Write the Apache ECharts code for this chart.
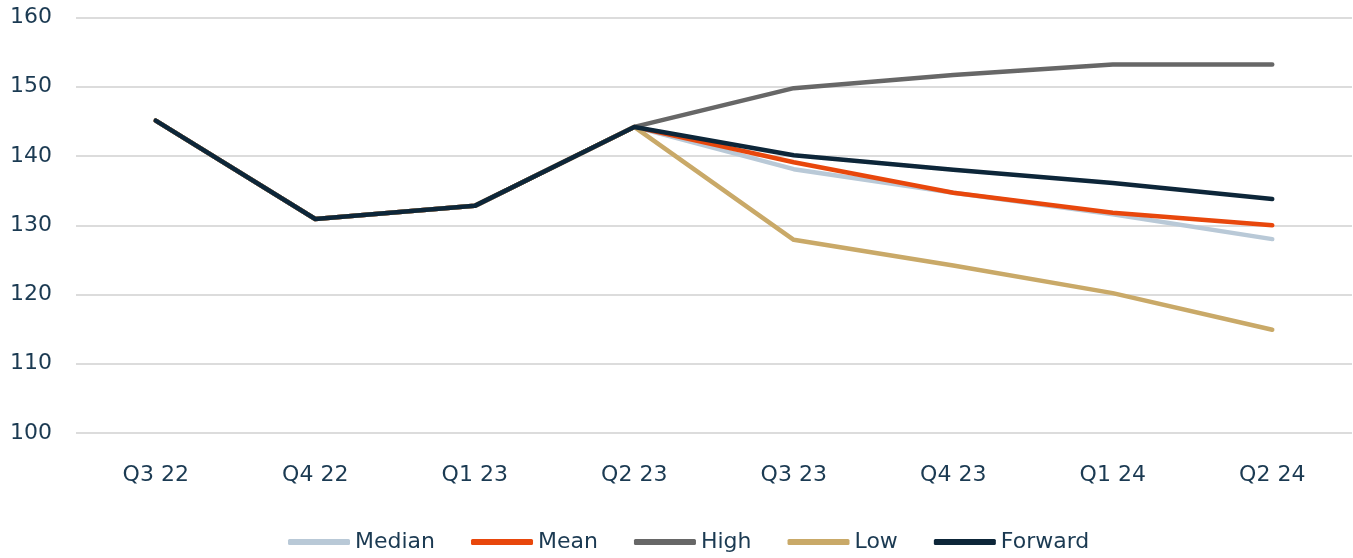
<!DOCTYPE html>
<html><head><meta charset="utf-8">
<script src="https://cdn.jsdelivr.net/npm/echarts@6/dist/echarts.min.js"></script>
<style>html,body{margin:0;padding:0;background:#fff}#c{width:1353px;height:558px}</style>
</head><body><div id="c"></div>
<script>
const categories = ['Q3 22','Q4 22','Q1 23','Q2 23','Q3 23','Q4 23','Q1 24','Q2 24'];
const median  = [145.1, 130.9, 132.8, 144.2, 138.1, 134.7, 131.6, 128.0];
const mean    = [145.1, 130.9, 132.8, 144.2, 139.1, 134.7, 131.8, 130.0];
const high    = [145.1, 130.9, 132.8, 144.2, 149.8, 151.7, 153.2, 153.2];
const low     = [145.1, 130.9, 132.8, 144.2, 127.9, 124.2, 120.2, 114.9];
const forward = [145.1, 130.9, 132.8, 144.2, 140.1, 138.0, 136.1, 133.8];
const yTicks = { min: 100, max: 160, interval: 10 };

const textColor = '#1b3a52';
const font = 'DejaVu Sans';
function s(name, data, color) {
  return { name, type: 'line', data, symbol: 'none', smooth: false,
    lineStyle: { color, width: 4.5, cap: 'round', join: 'round' }, itemStyle: { color } };
}
const chart = echarts.init(document.getElementById('c'), null, { renderer: 'canvas' });
chart.setOption({
  animation: false,
  textStyle: { fontFamily: font },
  grid: { left: 76, right: 1, top: 17.5, bottom: 125 },
  legend: {
    bottom: 0, left: 283, itemWidth: 62, itemHeight: 6, itemGap: 36, icon: 'roundRect',
    textStyle: { color: textColor, fontSize: 22, fontFamily: font },
    data: ['Median','Mean','High','Low','Forward']
  },
  xAxis: {
    type: 'category', data: categories, boundaryGap: true,
    axisLine: { show: false }, axisTick: { show: false },
    axisLabel: { color: textColor, fontSize: 22, fontFamily: font, margin: 31 }
  },
  yAxis: {
    type: 'value', min: yTicks.min, max: yTicks.max, interval: yTicks.interval,
    axisLine: { show: false }, axisTick: { show: false },
    axisLabel: { color: textColor, fontSize: 22, fontFamily: font, margin: 24 },
    splitLine: { lineStyle: { color: '#dcdcdc', width: 2 } }
  },
  series: [
    s('Median', median, '#b9c9d7'),
    s('Mean', mean, '#e8470c'),
    s('High', high, '#676767'),
    s('Low', low, '#c9a968'),
    s('Forward', forward, '#0d2639')
  ]
});
</script></body></html>
